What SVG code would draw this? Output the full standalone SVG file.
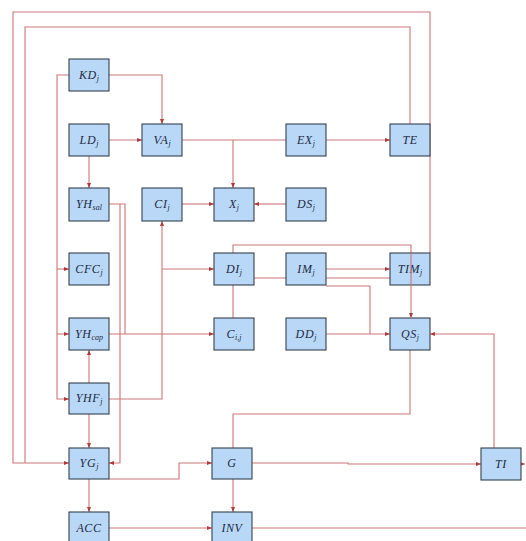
<svg xmlns="http://www.w3.org/2000/svg" width="526" height="541" viewBox="0 0 526 541">
  <defs>
    <marker id="arr" viewBox="0 0 6 6" refX="6" refY="3" markerWidth="5" markerHeight="5" markerUnits="userSpaceOnUse" orient="auto">
      <path d="M0,0.6 L6,3 L0,5.4 z" fill="#b03a3a"/>
    </marker>
    <style>
      .e { fill: none; stroke: #cc7676; stroke-width: 1.1; }
      .a { marker-end: url(#arr); }
      .box { fill: #b9d8f7; stroke: #34404e; stroke-width: 1.1; }
      .t { font-family: "Liberation Serif", "DejaVu Serif", serif; font-style: italic; font-size: 12px; letter-spacing: 0.6px; fill: #1c2a44; text-anchor: middle; }
      .s { font-size: 8px; letter-spacing: 0; }
    </style>
  </defs>
  <rect width="526" height="541" fill="#ffffff"/>

  <!-- connectors drawn beneath the boxes -->
  <g id="connectors">
    <path class="e a" d="M109,75 H162 V124"/>
    <path class="e a" d="M69,75 H57 V399 H69"/>
    <path class="e a" d="M57,269 H69"/>
    <path class="e a" d="M57,334 H69"/>
    <path class="e a" d="M109,140 H142"/>
    <path class="e a" d="M89,156 V188"/>
    <path class="e" d="M182,140 H286"/>
    <path class="e a" d="M233,140 V188"/>
    <path class="e a" d="M326,140 H390"/>
    <path class="e" d="M410,124 V27 H25 V463"/>
    <path class="e a" d="M430,253 V12 H13 V463 H69"/>
    <path class="e a" d="M182,204 H214"/>
    <path class="e a" d="M286,204 H254"/>
    <path class="e" d="M109,204 H125 V334"/>
    <path class="e a" d="M109,334 H214"/>
    <path class="e a" d="M120,204 V463 H109"/>
    <path class="e a" d="M109,399 H162 V221"/>
    <path class="e a" d="M162,269 H214"/>
    <path class="e" d="M233,253 V245 H411 V253"/>
    <path class="e" d="M233,318 V278 H390"/>
    <path class="e a" d="M326,269 H390"/>
    <path class="e" d="M326,286 H370 V334"/>
    <path class="e a" d="M326,334 H390"/>
    <path class="e a" d="M494,448 V334 H430"/>
    <path class="e a" d="M410,350 V414 H233 V512"/>
    <path class="e a" d="M89,383 V350"/>
    <path class="e a" d="M89,414 V448"/>
    <path class="e a" d="M109,479 H179 V463 H212"/>
    <path class="e a" d="M252,463 H348 V464 H481"/>
    <path class="e a" d="M521,464 H525"/>
    <path class="e a" d="M89,479 V512"/>
    <path class="e a" d="M109,528 H212"/>
    <path class="e" d="M252,528 H526"/>
  </g>

  <g id="KD"><rect class="box" x="69" y="59" width="40" height="32"/><text class="t" x="89" y="79">KD<tspan class="s" dy="2">j</tspan></text></g>
  <g id="LD"><rect class="box" x="69" y="124" width="40" height="32"/><text class="t" x="89" y="144">LD<tspan class="s" dy="2">j</tspan></text></g>
  <g id="VA"><rect class="box" x="142" y="124" width="40" height="32"/><text class="t" x="162" y="144">VA<tspan class="s" dy="2">j</tspan></text></g>
  <g id="EX"><rect class="box" x="286" y="124" width="40" height="32"/><text class="t" x="306" y="144">EX<tspan class="s" dy="2">j</tspan></text></g>
  <g id="TE"><rect class="box" x="390" y="124" width="40" height="32"/><text class="t" x="410" y="144">TE</text></g>

  <g id="YHsal"><rect class="box" x="69" y="188" width="40" height="33"/><text class="t" x="89" y="208">YH<tspan class="s" dy="2">sal</tspan></text></g>
  <g id="CI"><rect class="box" x="142" y="188" width="40" height="33"/><text class="t" x="162" y="208">CI<tspan class="s" dy="2">j</tspan></text></g>
  <g id="X"><rect class="box" x="214" y="188" width="40" height="33"/><text class="t" x="234" y="208">X<tspan class="s" dy="2">j</tspan></text></g>
  <g id="DS"><rect class="box" x="286" y="188" width="40" height="33"/><text class="t" x="306" y="208">DS<tspan class="s" dy="2">j</tspan></text></g>

  <g id="CFC"><rect class="box" x="69" y="253" width="40" height="32"/><text class="t" x="89" y="273">CFC<tspan class="s" dy="2">j</tspan></text></g>
  <g id="DI"><rect class="box" x="214" y="253" width="40" height="32"/><text class="t" x="234" y="273">DI<tspan class="s" dy="2">j</tspan></text></g>
  <g id="IM"><rect class="box" x="286" y="253" width="40" height="32"/><text class="t" x="306" y="273">IM<tspan class="s" dy="2">j</tspan></text></g>
  <g id="TIM"><rect class="box" x="390" y="253" width="40" height="32"/><text class="t" x="410" y="273">TIM<tspan class="s" dy="2">j</tspan></text></g>

  <g id="YHcap"><rect class="box" x="69" y="318" width="40" height="32"/><text class="t" x="89" y="338">YH<tspan class="s" dy="2">cap</tspan></text></g>
  <g id="Cij"><rect class="box" x="214" y="318" width="40" height="32"/><text class="t" x="234" y="338">C<tspan class="s" dy="2">i,j</tspan></text></g>
  <g id="DD"><rect class="box" x="286" y="318" width="40" height="32"/><text class="t" x="306" y="338">DD<tspan class="s" dy="2">j</tspan></text></g>
  <g id="QS"><rect class="box" x="390" y="318" width="40" height="32"/><text class="t" x="410" y="338">QS<tspan class="s" dy="2">j</tspan></text></g>

  <g id="YHF"><rect class="box" x="69" y="383" width="40" height="31"/><text class="t" x="89" y="402">YHF<tspan class="s" dy="2">j</tspan></text></g>

  <g id="YG"><rect class="box" x="69" y="448" width="40" height="31"/><text class="t" x="89" y="467">YG<tspan class="s" dy="2">j</tspan></text></g>
  <g id="G"><rect class="box" x="212" y="448" width="40" height="31"/><text class="t" x="232" y="467">G</text></g>
  <g id="TI"><rect class="box" x="481" y="448" width="40" height="32"/><text class="t" x="501" y="468">TI</text></g>

  <g id="ACC"><rect class="box" x="69" y="512" width="40" height="32"/><text class="t" x="89" y="532">ACC</text></g>
  <g id="INV"><rect class="box" x="212" y="512" width="40" height="32"/><text class="t" x="232" y="532">INV</text></g>

  <!-- the DI to QS line runs across the TIM box -->
  <g id="connectors-front">
    <path class="e a" d="M411,253 V318"/>
  </g>
</svg>
